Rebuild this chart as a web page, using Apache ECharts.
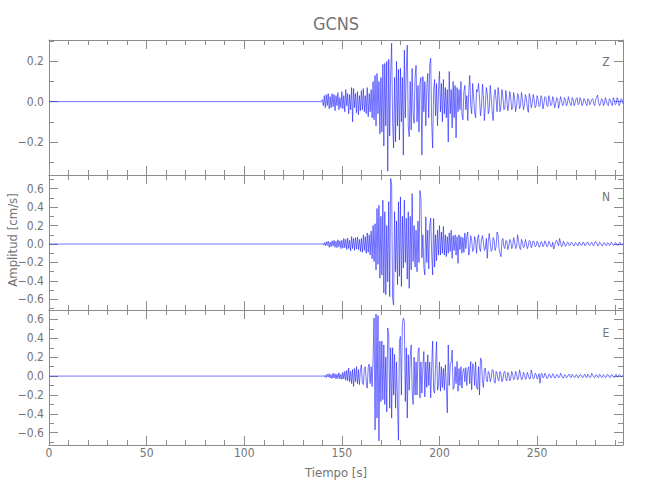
<!DOCTYPE html>
<html><head><meta charset="utf-8">
<script src="https://cdn.jsdelivr.net/npm/echarts@6/dist/echarts.min.js"></script>
<style>html,body{margin:0;padding:0;background:#fff}#c{width:650px;height:500px}</style>
</head><body><div id="c"></div><script>
// ---- data ----
const stationName = 'GCNS';
const componentNames = ['Z', 'N', 'E'];
const timeLabel = 'Tiempo [s]';
const ampLabel = 'Amplitud [cm/s]';
const xTickLabels = [0, 50, 100, 150, 200, 250];
const timeMax = 294;
const preEventValue = 0;       // flat trace before the arrival
const onsetTime = 140;         // first sample of the active record (s)
const sampleStep = 0.5;        // seconds between readings
const zRange = [-0.364, 0.306];
const nRange = [-0.715, 0.748];
const eRange = [-0.73, 0.70];

const zAmp = [
 0.01,-0.02,0.03,-0.03,0.035,-0.02,0.04,-0.035,0.025,-0.03,
 0.04,-0.025,0.035,-0.045,0.03,-0.02,0.045,-0.04,0.02,-0.03,
 0.05,-0.035,0.03,-0.05,0.06,-0.02,0.04,-0.06,0.035,-0.04,
 0.07,-0.1,0.065,-0.03,0.04,-0.055,0.05,-0.065,0.03,-0.045,
 0.055,-0.04,0.065,-0.05,0.03,-0.06,0.07,-0.075,0.04,-0.05,
 0.06,-0.08,0.1,-0.09,0.13,-0.12,0.14,-0.06,0.1,-0.16,
 0.12,-0.15,0.185,-0.22,0.19,-0.12,0.2,-0.345,0.21,-0.17,
 0.15,0.29,-0.1,-0.23,0.12,-0.2,0.2,-0.12,0.16,-0.19,
 0.165,-0.1,0.12,-0.265,0.256,-0.08,0.15,0.28,-0.12,-0.174,
 0.1,-0.14,0.165,-0.06,-0.107,0.12,0.18,-0.1,0.08,-0.15,
 0.09,0.12,-0.265,0.124,-0.05,0.1,-0.12,0.07,0.14,-0.08,
 0.18,0.215,-0.1,-0.23,0.05,0.11,-0.07,0.09,-0.12,0.06,
 0.15,-0.05,0.09,-0.1,0.11,-0.06,0.07,-0.08,0.06,-0.2,
 0.15,-0.06,0.06,-0.13,0.1,-0.08,0.08,-0.18,0.07,-0.05,
 0.06,-0.04,0.1,-0.06,-0.09,0.05,0.08,-0.04,0.03,-0.094,
 0.05,0.13,-0.02,-0.06,0.09,0.02,-0.05,-0.08,0.06,0.05,
 0.09,0.02,-0.07,-0.03,0.087,0.03,-0.094,-0.02,0.07,0.04,
 -0.06,-0.04,0.08,0.02,-0.05,-0.094,0.03,0.06,0.01,-0.05,
 0.07,0.03,-0.05,-0.02,0.06,0.02,-0.04,-0.03,0.055,0.01,
 -0.045,-0.01,0.05,0.02,-0.04,-0.03,0.045,0.01,-0.05,-0.02,
 0.04,0.03,-0.035,-0.02,0.045,0.01,-0.04,-0.02,0.035,0.02,
 -0.03,-0.053,0.04,0.02,-0.03,-0.01,0.035,0.01,-0.03,-0.02,
 0.03,0.01,-0.025,-0.02,0.03,0.015,-0.036,-0.01,0.025,0.02,
 -0.02,-0.025,0.03,0.01,-0.02,-0.015,0.025,0.01,-0.03,-0.01,
 0.02,0.015,-0.033,-0.01,0.025,0.01,-0.02,-0.015,0.02,0.01,
 -0.02,-0.01,0.025,0.005,-0.015,-0.02,0.02,0.01,-0.02,-0.005,
 0.015,0.02,-0.015,-0.01,0.02,0.01,-0.02,-0.01,0.015,0.005,
 -0.01,-0.02,0.015,0.01,-0.015,-0.005,0.01,0.015,-0.01,-0.02,
 0.01,0.02,0.033,-0.005,-0.02,-0.01,0.015,0.01,-0.02,-0.01,
 0.02,0.005,-0.015,-0.02,0.015,0.01,-0.01,-0.02,0.02,0.01,
 -0.015,-0.01,0.02,0.01,-0.02,-0.01,0.015,0.01,-0.01
];

const nAmp = [
 0.005,-0.01,0.015,-0.02,0.025,-0.015,0.03,-0.035,0.02,-0.03,
 0.035,-0.02,0.04,-0.035,0.03,-0.04,0.045,-0.03,0.035,-0.05,
 0.04,-0.045,0.06,-0.04,0.05,-0.06,0.065,-0.05,0.04,-0.075,
 0.08,-0.05,0.06,-0.07,0.07,-0.055,0.075,-0.06,0.05,-0.08,
 0.06,-0.09,0.1,-0.07,0.08,-0.1,0.12,-0.09,0.1,-0.12,
 0.14,-0.16,0.2,-0.19,0.22,-0.28,0.385,-0.22,0.42,-0.37,
 0.3,-0.335,0.475,-0.53,0.35,-0.55,0.2,-0.41,0.46,-0.57,
 0.71,0.64,-0.59,-0.66,0.35,-0.3,0.25,-0.44,0.457,-0.35,
 0.51,-0.46,0.3,-0.26,0.475,-0.2,0.28,-0.38,0.35,-0.48,
 0.3,-0.28,0.547,-0.19,0.2,-0.25,0.15,-0.3,0.25,-0.2,
 0.58,0.49,-0.15,0.1,-0.25,-0.335,0.295,-0.2,0.15,-0.27,
 0.2,0.28,-0.1,-0.335,0.277,-0.25,0.1,-0.18,0.15,-0.12,
 0.2,-0.12,0.13,-0.1,0.19,-0.12,0.1,-0.137,0.08,-0.1,
 0.12,-0.08,0.15,-0.155,0.09,-0.07,0.1,-0.12,0.08,-0.21,
 0.1,-0.06,0.08,-0.1,0.07,-0.09,0.12,-0.05,0.08,0.13,
 -0.12,-0.05,0.09,0.04,-0.08,-0.06,0.08,0.03,-0.1,0.06,
 0.1,-0.04,-0.08,0.05,0.09,0.02,-0.07,-0.05,0.06,-0.155,
 0.03,0.115,0.02,-0.08,-0.06,0.07,0.04,-0.07,-0.03,0.13,
 0.1,-0.05,-0.1,-0.137,0.04,0.06,-0.03,-0.05,0.04,0.03,
 -0.06,-0.02,0.05,0.03,-0.05,-0.02,0.07,0.02,-0.05,-0.03,
 0.1,0.03,-0.04,-0.06,0.05,0.02,-0.04,-0.03,0.05,0.01,
 -0.05,-0.02,0.04,0.03,-0.04,-0.01,0.035,0.02,-0.03,-0.02,
 0.03,0.01,-0.035,-0.02,0.025,0.02,-0.03,-0.01,0.035,0.01,
 -0.03,-0.02,0.03,0.01,-0.025,-0.03,0.02,-0.054,-0.02,0.03,
 0.04,0.01,-0.02,0.06,0.02,-0.03,-0.02,0.03,0.01,-0.025,
 -0.01,0.02,0.015,-0.02,-0.01,0.02,0.01,-0.015,-0.02,0.015,
 0.01,-0.01,-0.02,0.02,0.01,-0.015,-0.01,0.02,0.015,-0.02,
 -0.01,0.015,0.02,-0.01,-0.015,0.01,0.02,-0.01,-0.02,0.015,
 0.03,0.01,-0.02,-0.015,0.02,0.01,-0.015,-0.02,0.01,0.015,
 -0.01,-0.02,0.015,0.01,-0.015,-0.01,0.02,0.005,-0.015,-0.01,
 0.015,0.01,-0.01,-0.015,0.01,0.02,-0.01,-0.005,0.005
];

const eAmp = [
 0,0.005,-0.01,0.01,-0.015,0.02,-0.01,0.025,-0.02,0.015,
 -0.025,0.03,-0.02,0.025,-0.03,0.02,-0.025,0.035,-0.03,0.02,
 -0.035,0.04,-0.03,0.05,-0.045,0.06,-0.05,0.085,-0.06,0.05,
 -0.08,0.07,-0.11,0.08,-0.06,0.1,-0.08,0.07,-0.09,0.06,
 0.12,-0.07,-0.09,0.08,0.1,-0.06,-0.127,0.09,0.127,-0.08,
 0.1,-0.11,0.2,0.615,-0.57,0.657,-0.445,0.64,-0.686,0.37,
 -0.27,0.37,-0.25,0.33,-0.3,0.2,-0.38,0.51,0.44,-0.34,
 0.3,-0.445,0.3,-0.2,0.23,-0.34,0.15,-0.3,-0.68,0.37,
 0.42,-0.2,0.545,0.615,0.58,-0.27,0.3,-0.445,0.226,-0.15,
 0.2,0.33,-0.15,-0.3,0.2,-0.2,0.15,-0.2,0.25,0.3,
 -0.23,0.15,-0.18,0.1,0.26,-0.22,0.15,-0.12,0.226,-0.1,
 0.15,-0.23,0.1,0.37,-0.15,-0.18,0.12,0.364,-0.15,-0.1,
 0.15,-0.16,0.1,-0.12,0.08,-0.15,0.12,-0.1,-0.39,0.33,
 -0.1,0.12,0.15,0.276,-0.14,-0.12,0.1,-0.08,0.155,-0.16,
 0.08,-0.1,0.1,-0.127,0.05,0.08,-0.06,0.09,-0.1,0.06,
 0.1,-0.08,0.155,-0.145,0.13,0.1,-0.1,0.15,-0.12,-0.14,
 0.1,-0.2,0.19,0.17,-0.05,-0.12,0.07,0.085,-0.04,-0.06,
 0.05,0.03,-0.06,-0.02,0.07,0.06,-0.05,-0.075,0.05,0.03,
 -0.04,-0.05,0.05,0.02,-0.06,-0.03,0.04,0.05,-0.03,-0.05,
 0.04,0.02,-0.05,-0.03,0.05,0.02,-0.04,-0.03,0.05,0.02,
 -0.04,-0.02,0.065,0.02,-0.04,-0.03,0.04,0.02,-0.035,-0.02,
 0.04,0.01,-0.03,-0.03,0.065,0.02,-0.03,-0.02,0.03,0.02,
 -0.03,-0.01,0.025,-0.075,0.02,0.03,-0.02,-0.01,0.03,0.01,
 -0.025,-0.02,0.02,0.015,-0.02,-0.01,0.025,0.01,-0.02,-0.015,
 0.02,0.01,-0.02,-0.01,0.03,0.01,-0.015,-0.02,0.015,0.01,
 -0.02,-0.01,0.015,0.02,-0.01,-0.015,0.02,0.005,-0.015,-0.01,
 0.015,0.01,-0.02,-0.005,0.015,0.01,-0.01,-0.015,0.01,0.02,
 -0.01,-0.015,0.02,0.005,-0.015,-0.01,0.03,0.01,-0.01,-0.02,
 0.01,0.015,-0.01,-0.015,0.02,0.01,-0.015,-0.01,0.015,0.005,
 -0.015,-0.01,0.02,0.01,-0.01,-0.015,0.015,0.01,-0.01,-0.015,
 0.01,0.02,-0.01,-0.005,0.015,0.01,-0.01,0.005,0
];

// ---- chart ----
const FONT = '"Liberation Sans Narrow", "DejaVu Sans Condensed", sans-serif';
const TEXT = '#747474';
const FRAME = '#8c8c8c';
const traces = [zAmp, nAmp, eAmp];
const ranges = [zRange, nRange, eRange];
const gridTops = [40, 175, 310];
const labelY = [62, 197, 333];

function toSeries(vals) {
  const d = [[0, preEventValue], [onsetTime - sampleStep, preEventValue]];
  vals.forEach((v, i) => d.push([onsetTime + i * sampleStep, v]));
  return d;
}
function fmtY(v) {
  if (Math.abs(v) < 1e-9) return '0.0';
  return v.toFixed(1).replace('-', '\u2212');
}

const grids = gridTops.map(t => ({ left: 49, right: 27, top: t, height: 135, show: false }));
const xAxes = [], yAxes = [];
for (let g = 0; g < 3; g++) {
  [['bottom', true], ['bottom', false], ['top', true], ['top', false]].forEach(([pos, major]) => {
    const labelled = major && pos === 'bottom' && g === 2;
    xAxes.push({
      type: 'value', gridIndex: g, position: pos, min: 0, max: timeMax, interval: major ? 50 : 10,
      axisLine: { show: major, onZero: false, lineStyle: { color: FRAME, width: 1 } },
      axisTick: { show: true, inside: true, length: major ? 9 : 5, lineStyle: { color: FRAME, width: 1 } },
      axisLabel: { show: labelled, margin: 2, color: TEXT, fontFamily: FONT, fontSize: 12,
        showMinLabel: true, showMaxLabel: false,
        formatter: v => xTickLabels.includes(Math.round(v)) && Math.abs(v - Math.round(v)) < 1e-6 ? String(Math.round(v)) : '' },
      splitLine: { show: false }
    });
  });
  [['left', true], ['left', false], ['right', true], ['right', false]].forEach(([pos, major]) => {
    const labelled = major && pos === 'left';
    const iv = major ? 0.2 : 0.1;
    yAxes.push({
      type: 'value', gridIndex: g, position: pos, min: ranges[g][0], max: ranges[g][1],
      minInterval: iv, maxInterval: iv, splitNumber: major ? 4 : 8,
      axisLine: { show: major, onZero: false, lineStyle: { color: FRAME, width: 1 } },
      axisTick: { show: true, inside: true, length: major ? 9 : 5, lineStyle: { color: FRAME, width: 1 } },
      axisLabel: { show: labelled, margin: 5, color: TEXT, fontFamily: FONT, fontSize: 12,
        showMinLabel: false, showMaxLabel: false, formatter: fmtY },
      splitLine: { show: false }
    });
  });
}

const graphics = [
  { type: 'text', x: 336, y: 23, style: { text: stationName, fontSize: 18, fontFamily: FONT, fill: TEXT, align: 'center', verticalAlign: 'middle' } },
  { type: 'text', x: 336, y: 472, style: { text: timeLabel, fontSize: 13, fontFamily: FONT, fill: TEXT, align: 'center', verticalAlign: 'middle' } },
  { type: 'text', x: 12, y: 240, rotation: Math.PI / 2, style: { text: ampLabel, fontSize: 13, fontFamily: FONT, fill: TEXT, align: 'center', verticalAlign: 'middle' } }
].concat(componentNames.map((c, g) => ({
  type: 'text', x: 606, y: labelY[g], style: { text: c, fontSize: 12, fontFamily: FONT, fill: TEXT, align: 'center', verticalAlign: 'middle' }
})));

const chart = echarts.init(document.getElementById('c'), null, { renderer: 'svg', width: 650, height: 500 });
chart.setOption({
  animation: false,
  backgroundColor: '#fff',
  grid: grids,
  xAxis: xAxes,
  yAxis: yAxes,
  graphic: graphics,
  series: traces.map((vals, g) => ({
    type: 'line', name: componentNames[g], xAxisIndex: 4 * g, yAxisIndex: 4 * g,
    data: toSeries(vals), symbol: 'none', showSymbol: false, silent: true, clip: true,
    lineStyle: { color: '#1a1aff', width: 0.6 }
  }))
});
</script></body></html>
